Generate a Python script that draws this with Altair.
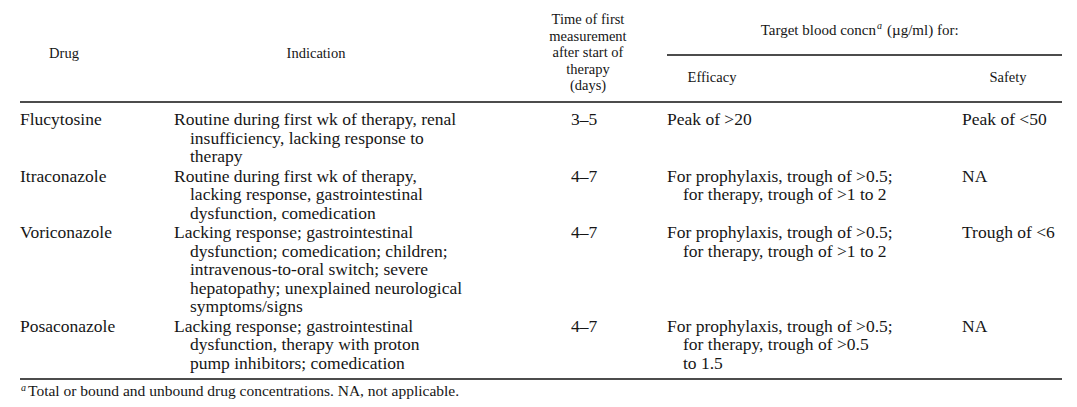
import altair as alt
import pandas as pd

# ---------------- data ----------------
drugs = ["Flucytosine", "Itraconazole", "Voriconazole", "Posaconazole"]
indications = [
    ["Routine during first wk of therapy, renal",
     "insufficiency, lacking response to",
     "therapy"],
    ["Routine during first wk of therapy,",
     "lacking response, gastrointestinal",
     "dysfunction, comedication"],
    ["Lacking response; gastrointestinal",
     "dysfunction; comedication; children;",
     "intravenous-to-oral switch; severe",
     "hepatopathy; unexplained neurological",
     "symptoms/signs"],
    ["Lacking response; gastrointestinal",
     "dysfunction, therapy with proton",
     "pump inhibitors; comedication"],
]
first_measurement_days = ["3–5", "4–7", "4–7", "4–7"]
efficacy = [
    ["Peak of >20"],
    ["For prophylaxis, trough of >0.5;", "for therapy, trough of >1 to 2"],
    ["For prophylaxis, trough of >0.5;", "for therapy, trough of >1 to 2"],
    ["For prophylaxis, trough of >0.5;", "for therapy, trough of >0.5", "to 1.5"],
]
safety = ["Peak of <50", "NA", "Trough of <6", "NA"]

header_drug = "Drug"
header_indication = "Indication"
header_time = ["Time of first", "measurement", "after start of", "therapy", "(days)"]
header_target_main = "Target blood concn"
header_target_sup = "a"
header_target_rest = "(µg/ml) for:"
header_efficacy = "Efficacy"
header_safety = "Safety"
footnote_mark = "a"
footnote_text = "Total or bound and unbound drug concentrations. NA, not applicable."

# ---------------- layout (page pixel coordinates) ----------------
FONT = "Times New Roman, Liberation Serif, DejaVu Serif, serif"
COLOR = "#161616"
BODY = 17.5
HEAD = 14.5
X_LEFT, X_RIGHT = 20, 1062
COL_DRUG, COL_IND, COL_TIME, COL_EFF, COL_SAF = 20, 174, 584, 667, 962
INDENT = 16
LINE_H = 18.5
ROW_GAP = 1
FIRST_ROW_Y = 120

body_left, body_center = [], []
y = FIRST_ROW_Y
for i, drug in enumerate(drugs):
    body_left.append({"x": COL_DRUG, "y": y, "text": drug})
    for j, line in enumerate(indications[i]):
        body_left.append({"x": COL_IND + (INDENT if j else 0), "y": y + j * LINE_H, "text": line})
    body_center.append({"x": COL_TIME, "y": y, "text": first_measurement_days[i]})
    for j, line in enumerate(efficacy[i]):
        body_left.append({"x": COL_EFF + (INDENT if j else 0), "y": y + j * LINE_H, "text": line})
    body_left.append({"x": COL_SAF, "y": y, "text": safety[i]})
    n = max(len(indications[i]), len(efficacy[i]))
    y = y + n * LINE_H + ROW_GAP

header_center = [
    {"x": 64, "y": 54, "text": header_drug},
    {"x": 316, "y": 54, "text": header_indication},
    {"x": 712, "y": 78, "text": header_efficacy},
    {"x": 1008, "y": 78, "text": header_safety},
]
for j, line in enumerate(header_time):
    header_center.append({"x": 588, "y": 20 + j * 16.5, "text": line})

TARGET_SPLIT = 876
target_main = [{"x": TARGET_SPLIT, "y": 30, "text": header_target_main}]
target_sup = [{"x": TARGET_SPLIT + 1, "y": 26, "text": header_target_sup}]
target_rest = [{"x": TARGET_SPLIT + 11, "y": 30, "text": header_target_rest}]

foot_sup = [{"x": 21, "y": 388, "text": footnote_mark}]
foot_main = [{"x": 28, "y": 391, "text": footnote_text}]

rules = pd.DataFrame([
    {"x": X_LEFT, "x2": X_RIGHT, "y": 6},
    {"x": 667, "x2": X_RIGHT, "y": 55},
    {"x": X_LEFT, "x2": X_RIGHT, "y": 102},
    {"x": X_LEFT, "x2": X_RIGHT, "y": 379},
])

# ---------------- chart ----------------
W, H = 1058, 391
xs = alt.Scale(domain=[8, 8 + W], nice=False, zero=False)
ys = alt.Scale(domain=[8, 8 + H], nice=False, zero=False, reverse=True)


def text_layer(rows, size, align="left", italic=False):
    mk = dict(font=FONT, fontSize=size, align=align, baseline="middle", color=COLOR)
    if italic:
        mk["fontStyle"] = "italic"
    return alt.Chart(pd.DataFrame(rows)).mark_text(**mk).encode(
        x=alt.X("x:Q", scale=xs, axis=None),
        y=alt.Y("y:Q", scale=ys, axis=None),
        text="text:N",
    )


rule_layer = alt.Chart(rules).mark_rule(color="#111111", strokeWidth=1.3).encode(
    x=alt.X("x:Q", scale=xs, axis=None),
    x2="x2:Q",
    y=alt.Y("y:Q", scale=ys, axis=None),
)

chart = alt.layer(
    rule_layer,
    text_layer(body_left, BODY),
    text_layer(body_center, BODY, align="center"),
    text_layer(header_center, HEAD, align="center"),
    text_layer(target_main, 15, align="right"),
    text_layer(target_sup, 10, italic=True),
    text_layer(target_rest, 15),
    text_layer(foot_sup, 10, italic=True),
    text_layer(foot_main, 15.5),
).properties(
    width=W, height=H, padding=0, autosize=alt.AutoSizeParams(type="none")
).configure_view(stroke=None)

chart.save("out.html", embed_options={"renderer": "svg", "actions": False})
